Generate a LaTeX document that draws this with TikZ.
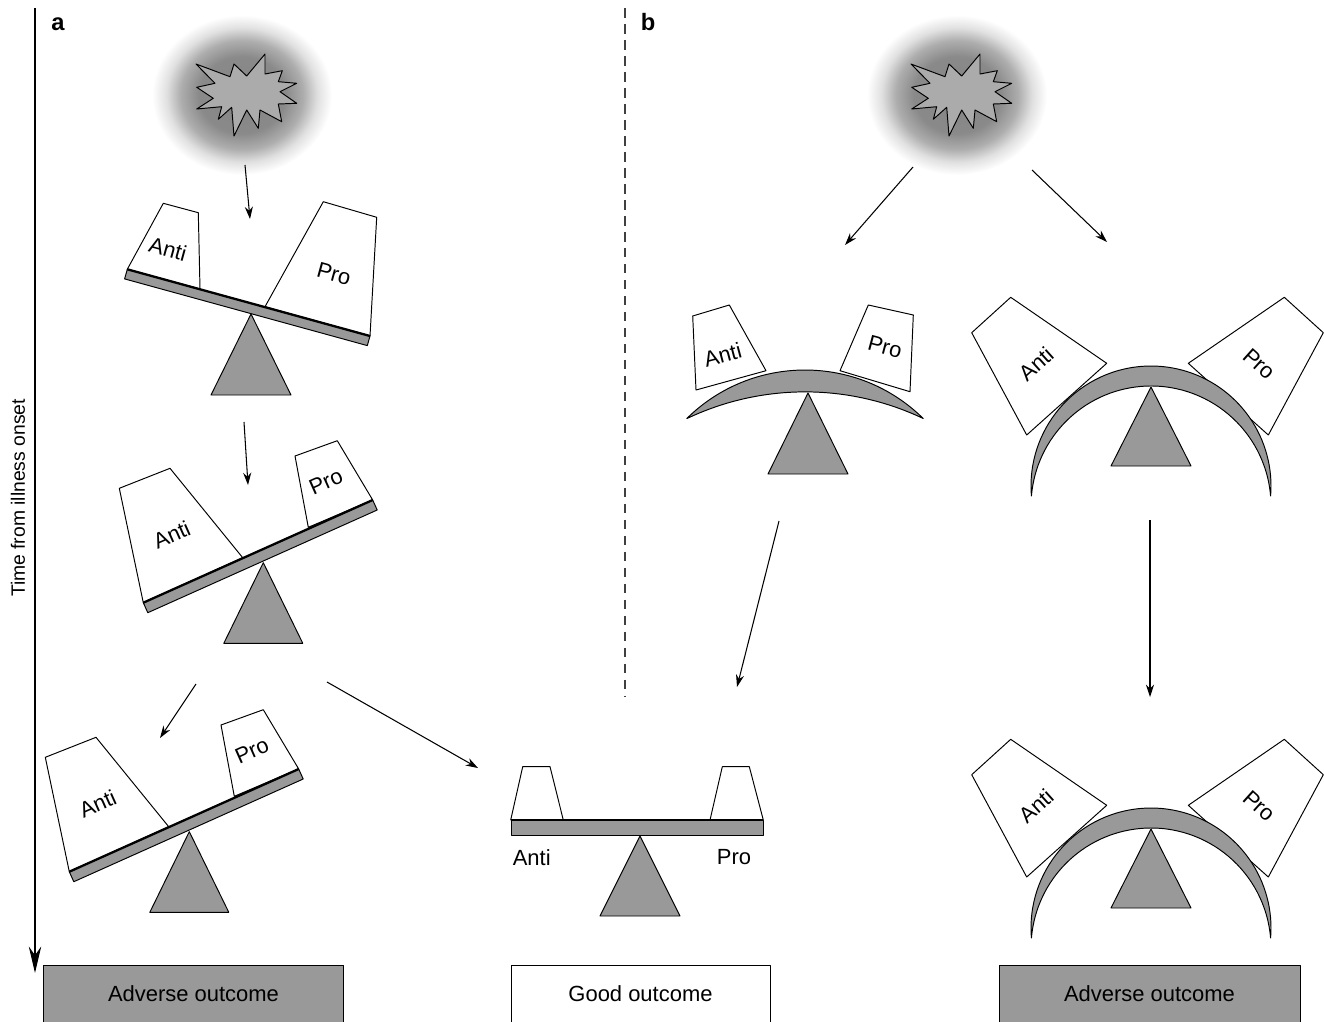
\documentclass[tikz,border=0pt]{standalone}
\usepackage{fontspec}
\setmainfont{Liberation Sans}
\usetikzlibrary{arrows.meta}

\definecolor{slabgray}{HTML}{999999}
\definecolor{burstgray}{HTML}{ABABAB}
% soft grey glow behind each insult burst (path box = central 50bp square)
\pgfdeclareradialshading{halo}{\pgfpointorigin}{%
  color(0bp)=(black!48); color(12bp)=(black!46); color(17bp)=(black!32);
  color(21bp)=(black!12); color(25bp)=(white); color(50bp)=(white)}

\tikzset{
  outline/.style={draw=black, line width=0.55pt},
  weight/.style={outline, fill=white},
  slab/.style={outline, fill=slabgray},
  slabtop/.style={draw=black, line width=1.3pt},
  lbl/.style={font=\fontsize{12.5}{15}\selectfont, inner sep=0pt},
  flow/.style={draw=black, line width=0.6pt, -{Stealth[length=7pt, width=4.6pt]}},
  outcome/.style={draw=black, line width=0.55pt, minimum height=1.16cm, inner sep=0pt,
    font=\fontsize{12.5}{15}\selectfont}
}

% starburst with its glow, centred at (#1,#2)
\newcommand\insultburst[2]{%
  \begin{scope}[shift={(#1,#2)}]
    \shade[shading=halo] (-4,0) ellipse [x radius=90, y radius=80];
    \draw[outline, fill=burstgray] (-50,-31) -- (-16,-18.3) -- (-12,-31) -- (0.7,-19)
      -- (19,-41) -- (19,-21) -- (36.3,-24.3) -- (32.3,-13.3) -- (50.7,-11.7)
      -- (34,-3.3) -- (50.7,8.3) -- (32.3,9) -- (35.7,26.7) -- (14,15)
      -- (12.3,33.3) -- (0.7,15) -- (-12,41) -- (-14.3,12.3) -- (-27.7,24.3)
      -- (-24.3,11.7) -- (-49.3,14) -- (-32.7,3.3) -- (-49.3,-7.7) -- (-31,-11.7) -- cycle;
  \end{scope}}

% straight beam tipped towards Anti; #1 name prefix, pivot apex at (#2,#3)
\newcommand\tiltbalance[3]{%
  \begin{scope}[shift={(#2,#3)}]
    \draw[weight] (-120,40) -- (-144,-74.4) -- (-93.3,-94.4) -- (-20.6,-5) -- cycle;
    \draw[weight] (45,-35.4) -- (31.7,-106.7) -- (74,-122) -- (109.4,-62.7) -- cycle;
    \draw[slab] (-120,40) -- (109.4,-62.7) -- (113.9,-52.7) -- (-115.5,50) -- cycle;
    \draw[slabtop] (-120,40) -- (109.4,-62.7);
    \draw[slab] (0,0) -- (39.5,80.6) -- (-39.5,80.6) -- cycle;
    \node[lbl, rotate=24] (#1anti) at (-91.6,-27.7) {Anti};
    \node[lbl, rotate=24] (#1pro) at (62.6,-81) {Pro};
  \end{scope}}

% strongly bent beam; #1 name prefix, centre of the outer arc at (#2,#3)
\newcommand\archbalance[3]{%
  \begin{scope}[shift={(#2,#3)}]
    \draw[weight] (-179.3,-153.3) -- (-140.3,-188.7) -- (-44.3,-122.7) -- (-124.3,-51) -- cycle;
    \draw[weight] (172.3,-153.3) -- (133.3,-188.7) -- (37.3,-122.7) -- (117.3,-51) -- cycle;
    \draw[slab] (0,0) ++(175.22:120) arc[start angle=175.22, end angle=364.78, radius=120]
      arc[start angle=-4.78, end angle=-175.22, radius=120] -- cycle;
    \draw[slab] (0,-99) -- (40,-20) -- (-40,-20) -- cycle;
    \node[lbl, rotate=42] (#1anti) at (-115,-122) {Anti};
    \node[lbl, rotate=-42] (#1pro) at (108,-122) {Pro};
  \end{scope}}

\begin{document}
\begin{tikzpicture}[x=0.02cm, y=0.02cm, yscale=-1, line join=round]
\useasboundingbox (0,0) rectangle (1324,1021);

% ---- time axis ----
\coordinate (t0) at (35,8);
\coordinate (t1) at (35,973);
\draw[line width=1.5pt, -{Stealth[length=15pt, width=7pt]}] (t0) -- (t1);
\node[font=\fontsize{11}{13}\selectfont, rotate=90, inner sep=0pt] (tlabel) at (18,498) {Time from illness onset};

% ---- panel separator and panel letters ----
\coordinate (d0) at (625,8);
\coordinate (d1) at (625,697);
\draw[black!75, line width=0.6pt, dash pattern=on 5.5pt off 3.6pt] (d0) -- (d1);
\node[font=\bfseries\fontsize{13.5}{16}\selectfont, anchor=base, inner sep=0pt] (pa) at (58,31) {a};
\node[font=\bfseries\fontsize{13.5}{16}\selectfont, anchor=base, inner sep=0pt] (pb) at (648,31) {b};

% ---- bursts ----
\insultburst{246}{95}
\insultburst{961}{95}

% ---- panel a, first balance: tipped to Pro ----
\draw[weight] (127.3,269.3) -- (163.3,203.3) -- (198.3,212.7) -- (200,289) -- cycle;
\draw[weight] (265,306.7) -- (323.3,201.7) -- (376.7,217.3) -- (370,336) -- cycle;
\draw[slab] (127.3,269.3) -- (370,336) -- (367.3,345.6) -- (124.6,278.9) -- cycle;
\draw[slabtop] (127.3,269.3) -- (370,336);
\draw[slab] (251,314) -- (291,395) -- (211,395) -- cycle;
\node[lbl, rotate=-15.4] (anti1) at (168,249) {Anti};
\node[lbl, rotate=-15.4] (pro1) at (334,274) {Pro};

% ---- panel a, second and third balances: tipped to Anti ----
\tiltbalance{s2}{263.3}{562.7}
\tiltbalance{s3}{189.3}{831.7}

% ---- level balance ----
\draw[weight] (510.7,820) -- (522.7,766.7) -- (550,766.7) -- (563.3,820) -- cycle;
\draw[weight] (710,820) -- (722.3,766.7) -- (749.3,766.7) -- (763.3,820) -- cycle;
\draw[slab] (511,820) rectangle (763,835);
\draw[slabtop] (511,820) -- (763,820);
\draw[slab] (640,836) -- (680,916) -- (600,916) -- cycle;
\node[lbl] (anti4) at (531.7,857.3) {Anti};
\node[lbl] (pro4) at (734,857.3) {Pro};

% ---- panel b, slightly bent balance ----
\draw[weight] (692.7,316) -- (729.3,305) -- (766,370.7) -- (696,390) -- cycle;
\draw[weight] (868.3,305) -- (913.3,315) -- (910,391.7) -- (840,370.7) -- cycle;
\draw[slab] (805,538.3) ++(-134.6:168.3) arc[start angle=-134.6, end angle=-45.4, radius=168.3]
  arc[start angle=-64.6, end angle=-115.4, radius=275.2] -- cycle;
\draw[slab] (808,393) -- (848,474) -- (768,474) -- cycle;
\node[lbl, rotate=15] (anti5) at (722.7,355) {Anti};
\node[lbl, rotate=-15] (pro5) at (885,347) {Pro};

% ---- panel b, strongly bent balances ----
\archbalance{s6}{1151}{486}
\archbalance{s7}{1151}{928}

% ---- outcomes ----
\node[outcome, fill=slabgray, minimum width=6.02cm] (adv1) at (193.5,994) {Adverse outcome};
\node[outcome, fill=white, minimum width=5.18cm] (good) at (640.5,994) {Good outcome};
\node[outcome, fill=slabgray, minimum width=6.02cm] (adv2) at (1149.5,994) {Adverse outcome};

% ---- connectors ----
\coordinate (a1s) at (245,165);  \coordinate (a1e) at (250,219);
\coordinate (a2s) at (244,422);  \coordinate (a2e) at (248,485);
\coordinate (a3s) at (196,684);  \coordinate (a3e) at (160,738);
\coordinate (a4s) at (327,682);  \coordinate (a4e) at (478,768);
\coordinate (b1s) at (913,167);  \coordinate (b1e) at (845,245);
\coordinate (b2s) at (1032,170); \coordinate (b2e) at (1107,242);
\coordinate (b3s) at (779,521);  \coordinate (b3e) at (737,687);
\coordinate (b4s) at (1150,520); \coordinate (b4e) at (1150,697);
\draw[flow] (a1s) -- (a1e);
\draw[flow] (a2s) -- (a2e);
\draw[flow] (a3s) -- (a3e);
\draw[flow] (a4s) -- (a4e);
\draw[flow] (b1s) -- (b1e);
\draw[flow] (b2s) -- (b2e);
\draw[flow] (b3s) -- (b3e);
\draw[flow] (b4s) -- (b4e);
\end{tikzpicture}
\end{document}
